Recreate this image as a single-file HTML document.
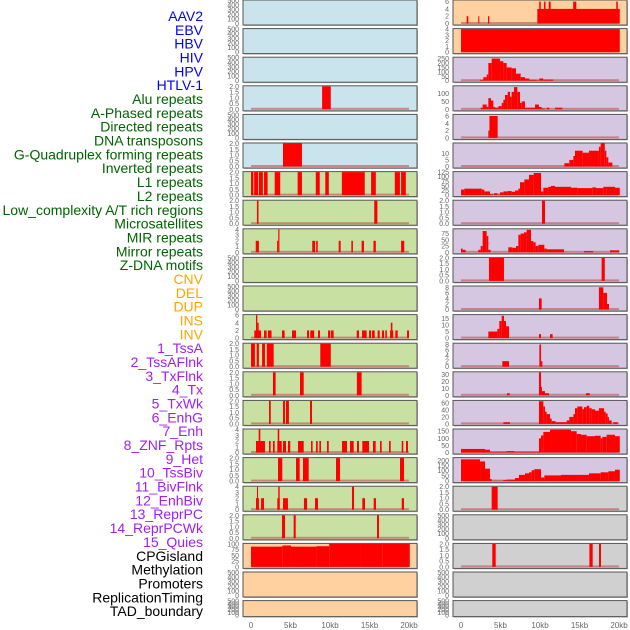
<!DOCTYPE html>
<html><head><meta charset="utf-8">
<style>
html,body{margin:0;padding:0;background:#fff;}
svg{display:block;font-family:"Liberation Sans",sans-serif;}
</style></head>
<body>
<svg id="chart" width="630" height="630" viewBox="0 0 630 630"></svg>
<script>
const trackLabels=["AAV2","EBV","HBV","HIV","HPV","HTLV-1","Alu repeats","A-Phased repeats","Directed repeats","DNA transposons","G-Quadruplex forming repeats","Inverted repeats","L1 repeats","L2 repeats","Low_complexity A/T rich regions","Microsatellites","MIR repeats","Mirror repeats","Z-DNA motifs","CNV","DEL","DUP","INS","INV","1_TssA","2_TssAFlnk","3_TxFlnk","4_Tx","5_TxWk","6_EnhG","7_Enh","8_ZNF_Rpts","9_Het","10_TssBiv","11_BivFlnk","12_EnhBiv","13_ReprPC","14_ReprPCWk","15_Quies","CPGisland","Methylation","Promoters","ReplicationTiming","TAD_boundary"];
const labelGroups=[6,13,5,15,5];
const xTickLabels=["0","5kb","10kb","15kb","20kb"];
const xTickValues=[0,5,10,15,20];
const E=[0,100,200,300,400,500];
const T2=[0,0.5,1,1.5,2];
const leftTicks=[E,E,E,T2,E,T2,T2,T2,[0,1,2,3,4],E,E,[0,2,4,6],T2,T2,T2,[0,1,2,3,4],T2,[0,1,2,3,4],T2,[0,25,50,75,100],E,E];
const leftYMax=[500,500,500,2,500,2,2,2,4,500,500,6,2,2,2,4,2,4,2,100,500,500];
const rightTicks=[[0,2,4,6],[0,1,2,3,4],[0,50,100,150,200,250],[0,50,100],[0,2,4,6],[0,5,10],[0,25,50,75,100,125],T2,[0,25,50,75],T2,[0,2,4,6,8],[0,5,10,15],[0,2,4,6,8],[0,10,20,30],[0,20,40,60],[0,50,100,150],[0,50,100,150,200],T2,E,T2,E,E];
const rightYMax=[6.3,4,260,145,6.3,17.5,125,2,92,2,8.3,17.5,8.3,33,66,162,222,2,500,2,500,500];
const leftSeries=[
[],[],[],
[[9.0,10.1,2]],
[],
[[4.05,6.45,2]],
[[0,0.3,2],[0.4,0.9,2],[1.0,1.5,2],[1.65,2.1,2],[3.0,3.7,2],[5.9,6.45,2],[8.2,8.7,2],[9.4,9.85,2],[11.5,14.4,2],[15.2,15.8,2],[18.2,18.85,2],[19.0,19.6,2]],
[[0.75,0.95,2],[15.6,16.0,2]],
[[0.6,1.0,2],[3.3,3.45,2],[3.45,3.6,4],[7.75,8.1,2],[8.25,8.45,2],[11.1,11.35,2],[12.7,12.9,2],[14.0,14.3,2],[15.5,15.8,2],[19.0,19.4,2]],
[],[],
[[0.42,1.27,2],[0.63,0.8,6],[0.8,0.97,4],[1.65,1.98,2],[2.15,2.6,2],[3.92,4.26,2],[5.19,5.7,2],[7.09,7.34,2],[7.5,8.0,2],[8.48,8.73,2],[9.75,10.04,2],[10.13,10.46,2],[13.38,13.67,2],[14.05,14.64,2],[14.94,15.19,2],[15.32,15.66,2],[16.03,16.29,2],[16.58,16.84,2],[17.0,17.2,2],[17.6,18.0,2],[17.7,17.9,4],[18.27,18.57,2],[19.75,20.0,2]],
[[0,0.5,2],[0.72,1.0,2],[1.4,1.77,2],[2.0,2.87,2],[8.77,10.1,2]],
[[2.78,3.12,2],[6.2,6.67,2],[13.4,14.0,2]],
[[2.28,2.5,2],[4.05,4.3,2],[4.43,4.8,2],[7.47,7.72,2]],
[[0.63,1.77,2],[0.97,1.18,4],[2.28,2.49,2],[2.78,3.0,2],[3.33,3.89,2],[3.38,3.58,4],[4.05,4.43,2],[4.68,4.97,2],[5.95,6.67,2],[7.6,7.8,2],[8.23,8.44,2],[8.65,8.86,2],[9.62,9.84,2],[11.52,12.15,2],[12.53,13.0,2],[13.42,13.67,2],[14.09,14.94,2],[15.44,15.78,2],[16.33,16.54,2],[17.47,17.68,2],[19.08,19.28,2],[19.62,19.87,2]],
[[3.42,3.96,2],[5.7,6.16,2],[6.58,7.3,2],[10.76,11.27,2],[18.86,19.37,2]],
[[0.63,1.0,2],[0.76,0.89,4],[1.27,1.65,2],[3.33,3.63,2],[3.45,3.63,4],[4.05,4.68,2],[6.7,7.1,2],[8.1,8.48,2],[12.78,13.04,4],[14.09,14.43,2],[15.53,15.82,2],[19.08,19.37,2]],
[[3.92,4.3,2],[5.4,5.66,2],[15.95,16.2,2]],
[[0,3.96,88],[3.96,5.06,93],[5.06,8.3,88],[8.3,9.9,90],[9.9,13.8,100],[13.8,16.67,102],[16.67,20.1,100]],
[],[]
];
const rightSeries=[
[[0.72,0.93,2],[2.19,2.32,2],[3.42,3.58,2],[9.66,20.1,4],[9.9,10.1,6],[10.5,10.7,6],[11.1,11.35,6],[14.2,14.6,6],[19.65,19.84,6]],
[[0,20.1,4]],
[[2.4,2.83,10],[2.83,3.25,40],[3.25,3.46,70],[3.46,3.88,200],[3.88,4.94,250],[4.94,5.36,220],[5.36,5.78,200],[5.78,6.41,150],[6.41,6.96,140],[6.96,7.55,80],[7.55,8.1,40],[8.1,8.65,25],[8.65,9.58,10],[9.58,9.91,5],[9.91,10.42,25],[10.42,11.68,12]],
[[2.49,2.74,10],[2.74,3.25,30],[3.25,3.46,15],[3.46,3.8,70],[3.8,4.09,55],[4.09,4.3,15],[4.3,4.73,10],[4.73,5.15,20],[5.15,5.36,40],[5.36,5.57,60],[5.57,5.91,90],[5.91,6.2,110],[6.2,6.41,80],[6.41,6.71,110],[6.71,7.13,140],[7.13,7.47,110],[7.47,7.68,40],[7.68,8.1,50],[8.1,9.37,10],[9.37,9.87,30],[9.87,10.2,15],[10.2,10.63,5],[10.84,11.18,10],[11.9,12.83,10]],
[[3.46,3.6,2],[3.6,4.64,6]],
[[13.08,13.71,2.5],[13.71,14.22,5],[14.22,14.43,8],[14.43,15.4,12],[15.4,16.2,10.5],[16.2,17.46,12],[17.46,17.68,15],[17.68,18.2,17.5],[18.2,18.4,12],[18.4,18.65,7],[18.65,19.16,3]],
[[0,0.42,30],[0.42,2.62,35],[2.62,2.95,30],[2.95,3.67,20],[3.67,4.09,5],[4.18,4.64,10],[4.64,4.93,3],[4.93,5.36,15],[5.36,5.91,20],[5.91,6.41,22],[6.41,6.84,18],[6.84,7.26,25],[7.26,7.47,35],[7.47,8.02,70],[8.02,8.61,85],[8.61,9.2,110],[9.2,10.13,120],[10.13,10.42,20],[10.42,11.06,40],[11.06,11.39,45],[11.39,11.9,50],[11.9,13.92,45],[13.92,14.77,40],[14.77,16.62,38],[16.62,17.09,42],[17.09,18.02,38],[18.02,18.44,45],[18.44,19.49,45],[19.49,20.1,40]],
[[10.25,10.63,2]],
[[0,0.21,15],[0.21,0.59,10],[2.19,2.49,10],[2.49,2.74,25],[2.74,3.25,85],[3.25,3.46,65],[3.46,3.75,10],[5.99,6.5,20],[6.5,6.96,18],[6.96,7.26,25],[7.26,7.55,70],[7.55,7.97,75],[7.97,8.31,80],[8.31,8.86,90],[8.86,9.16,45],[9.16,9.45,40],[9.45,9.79,25],[9.79,10.55,30],[10.55,10.84,15],[10.84,13.04,12],[15.57,16.75,5],[18.86,20.04,8]],
[[3.54,5.44,2],[17.8,18.2,2]],
[[9.87,10.21,4],[17.46,18.02,8],[18.02,18.48,6],[18.48,18.73,2]],
[[3.46,4.6,5],[4.6,4.85,7],[4.85,5.15,13],[5.15,5.44,17],[5.44,5.7,13],[5.7,6.08,9],[9.87,10.13,3],[11.27,11.6,3]],
[[5.23,6.08,2],[9.92,10.13,8],[10.13,10.3,2]],
[[5.83,6.16,3],[9.87,10.13,33],[10.13,10.25,12],[10.25,10.63,6],[10.63,11.14,3],[15.82,16.29,3]],
[[5.36,6.2,5],[9.87,10.42,65],[10.42,10.63,50],[10.63,10.84,35],[10.84,11.27,28],[11.27,11.48,15],[11.48,11.98,8],[11.98,13.38,5],[13.38,13.71,10],[13.71,14.22,20],[14.22,14.43,28],[14.43,14.73,45],[14.73,15.36,50],[15.36,15.57,42],[15.57,15.91,48],[15.91,16.24,52],[16.24,16.54,45],[16.54,16.96,42],[16.96,17.46,38],[17.46,18.1,45],[18.1,18.31,35],[18.31,18.56,30],[18.56,18.73,20],[18.73,19.07,10],[19.28,19.83,5]],
[[0,3.04,25],[3.04,3.67,20],[3.67,5.78,5],[5.78,6.75,10],[6.75,9.87,5],[9.87,10.13,100],[10.13,10.42,120],[10.42,11.27,145],[11.27,13.92,160],[13.92,14.64,150],[14.64,15.19,130],[15.19,15.91,125],[15.91,16.96,115],[16.96,17.68,118],[17.68,17.89,100],[17.89,18.44,110],[18.44,19.49,125],[19.49,20.1,115]],
[[0,2.41,210],[2.41,3.04,190],[3.04,3.67,120],[3.67,3.88,20],[3.88,5.36,3],[5.36,5.78,10],[5.78,6.84,15],[6.84,7.34,30],[7.34,8.1,60],[8.1,8.61,75],[8.61,8.94,85],[8.94,9.28,105],[9.28,10.13,115],[10.13,10.55,35],[10.55,12.66,55],[12.66,16.2,60],[16.2,17.68,75],[17.68,18.65,85],[18.65,19.49,95],[19.49,20.1,110]],
[[3.88,4.64,2]],
[],
[[3.96,4.39,2],[16.25,16.67,2],[17.47,17.72,2]],
[],[]
];
const leftBg=i=>i<6?"#c9e4ec":(i<19?"#c8e1a2":"#ffd1a1");
const rightBg=i=>i<2?"#ffd1a1":(i<17?"#d5c6e2":"#d0d0d0");

const NS="http://www.w3.org/2000/svg";
const svg=document.getElementById("chart");
function mk(tag,attrs,parent){const e=document.createElementNS(NS,tag);for(const k in attrs)e.setAttribute(k,attrs[k]);(parent||svg).appendChild(e);return e;}

// labels
const groupColors=["#0000ff","#006400","#ffa500","#a020f0","#000000"];
let gi=0,gc=0;
trackLabels.forEach((t,i)=>{
  const col=groupColors[gi];
  const el=mk("text",{x:203,y:16+i*13.84+5,"text-anchor":"end","font-size":"14",fill:col});
  el.textContent=t;
  
  
  gc++; if(gc>=labelGroups[gi]){gi++;gc=0;}
});

function fmt(v,ticks){return ticks.some(t=>t%1!==0)?v.toFixed(1):String(v);}

function drawPanel(px,row,bg,ticks,ymax,series,side){
  const top=row*28.6;
  const h=row===21?16:25;
  const W=174;
  const g=mk("g",{});
  
  
  mk("rect",{x:px+1,y:top+1,width:W,height:h,fill:"#b8b8b8"},g);
  mk("rect",{x:px,y:top,width:W,height:h,fill:bg,stroke:"#555",'stroke-width':1},g);
  const x0=px+8, sx=7.9;
  const yb=top+h-1.5, yt=top+0.5;
  const yScale=v=>yb-(v/ymax)*(yb-yt);
  const xScale=k=>x0+k*sx;
  if(series.length){
    const bl=mk("rect",{x:xScale(0),y:yb-1.5,width:xScale(20)-xScale(0),height:2,fill:"#c05050",opacity:0.6},g);
    
    
  }
  series.forEach(s=>{
    const y=yScale(Math.min(s[2],ymax));
    const r=mk("rect",{x:xScale(s[0]),y:y,width:Math.max(0.8,xScale(s[1])-xScale(s[0])),height:yb-y,fill:"#ff0000"},g);
    
    
  });
  ticks.forEach(t=>{
    const tx=mk("text",{x:px-4,y:yScale(t)+2.5,"text-anchor":"end","font-size":"7",fill:"#666"},g);
    tx.textContent=fmt(t,ticks);
    
    
  });
}
for(let r=0;r<22;r++){
  drawPanel(243,r,leftBg(r),leftTicks[r],leftYMax[r],leftSeries[r],'left');
  drawPanel(453,r,rightBg(r),rightTicks[r],rightYMax[r],rightSeries[r],'right');
}
[243,453].forEach((px,ci)=>{
  xTickValues.forEach((v,i)=>{
    const t=mk("text",{x:px+8+v*7.9,y:628,"text-anchor":"middle","font-size":"8",fill:"#666"});
    t.textContent=xTickLabels[i];
    
    
  });
});
</script>
</body></html>
